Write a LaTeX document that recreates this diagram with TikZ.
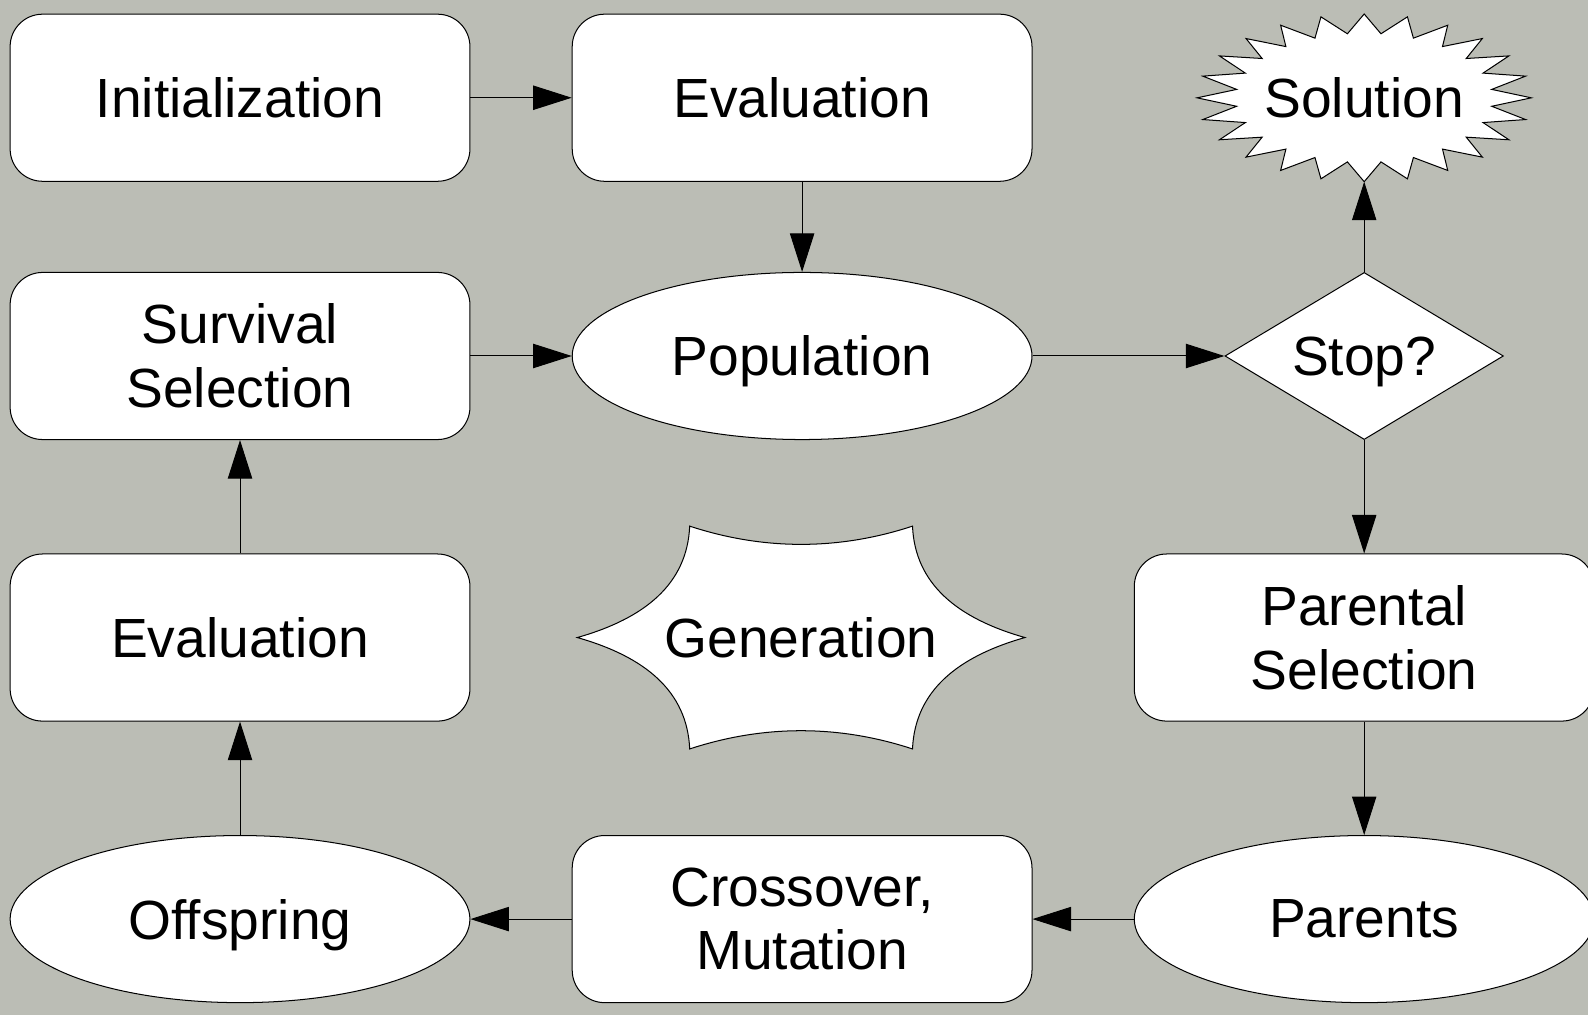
\documentclass[tikz,border=0pt]{standalone}
\usepackage{fontspec}
\setmainfont{Liberation Sans}
\usetikzlibrary{shapes.geometric,arrows.meta}
\definecolor{bgc}{RGB}{187,189,181}
\begin{document}
\begin{tikzpicture}[x=0.5pt,y=-0.5pt,
  font=\fontsize{27.25}{31.5}\selectfont,
  shp/.style={draw=black,fill=white,line width=0.5pt},
  box/.style={shp,rounded corners=16pt,minimum width=227pt,minimum height=82.5pt,inner sep=0pt,align=center},
  oval/.style={shp,ellipse,minimum width=227pt,minimum height=82.5pt,inner sep=0pt,align=center},
  conn/.style={-{Triangle[length=19pt,width=12pt]},line width=0.5pt,draw=black},
  ]
\fill[bgc] (0,0) rectangle (1568,1002);
\useasboundingbox (0,0) rectangle (1568,1002);

% row 1
\node[box] (init) at (237,96.5) {Initialization};
\node[box] (eval1) at (792,96.5) {Evaluation};
\begin{scope}[shift={(1347,96.6)}]
  \filldraw[shp] (0:165 and 82.8)
    \foreach \k in {0,...,23} { -- ({\k*15+7.5}:127 and 63.8) -- ({(\k+1)*15}:165 and 82.8) } -- cycle;
  \coordinate (solbot) at (90:165 and 82.8);
  \coordinate (soltop) at (-90:165 and 82.8);
\end{scope}
\node (sol) at (1347,96.6) {Solution};
\coordinate (solb) at (1347,179.4);

% row 2
\node[box] (surv) at (237,351.5) {Survival\\Selection};
\node[oval,text depth=0pt] (pop) at (792,351.5) {Population};
\node[shp,diamond,aspect=1.667,minimum width=137.5pt,minimum height=82.5pt,inner sep=0pt,text depth=0pt] (stop) at (1347,351.5) {Stop?};

% row 3
\node[box] (eval2) at (237,629.5) {Evaluation};
\begin{scope}[shift={(791,629.5)}]
  \filldraw[shp] (-110,-110)
    .. controls (-37,-86) and (37,-86) .. (110,-110)
    .. controls (112.5,-53) and (154,-19) .. (221,0)
    .. controls (154,19) and (112.5,53) .. (110,110)
    .. controls (37,86) and (-37,86) .. (-110,110)
    .. controls (-112.5,53) and (-154,19) .. (-221,0)
    .. controls (-154,-19) and (-112.5,-53) .. (-110,-110) -- cycle;
\end{scope}
\node (gen) at (791,629.5) {Generation};
\node[box] (par) at (1347,629.5) {Parental\\Selection};

% row 4
\node[oval,text depth=0pt] (off) at (237,907.5) {Offspring};
\node[box] (cross) at (792,907.5) {Crossover,\\Mutation};
\node[oval] (parents) at (1347,907.5) {Parents};

% connectors
\draw[conn] (init) -- (eval1);
\draw[conn] (eval1) -- (pop);
\draw[conn] (surv) -- (pop);
\draw[conn] (pop) -- (stop);
\draw[conn] (stop) -- (solb);
\draw[conn] (stop) -- (par);
\draw[conn] (par) -- (parents);
\draw[conn] (parents) -- (cross);
\draw[conn] (cross) -- (off);
\draw[conn] (off) -- (eval2);
\draw[conn] (eval2) -- (surv);
\end{tikzpicture}
\end{document}
